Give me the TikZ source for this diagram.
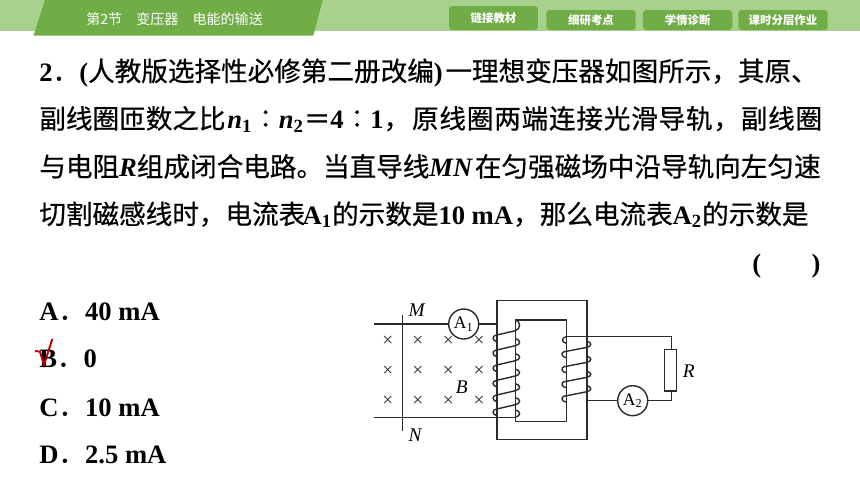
\documentclass[tikz,border=0pt]{standalone}
\usepackage{fontspec}
\setmainfont{Liberation Serif}
\newfontfamily\cjk{Noto Sans CJK SC}
\newfontfamily\cjkbody{Noto Sans CJK SC}[FakeBold=0.5]
\newfontfamily\cjkwide{Noto Sans CJK SC}[FakeBold=0.5,LetterSpace=3]
\newcommand{\zh}[1]{{\cjkbody\mdseries #1}}
\newcommand{\zhw}[1]{{\cjkwide\mdseries #1}}
\definecolor{bandgreen}{HTML}{A9D18E}
\definecolor{tabgreen}{HTML}{70AD47}
\definecolor{wiregray}{HTML}{2B2B2B}
\definecolor{tickred}{HTML}{C00000}
\tikzset{
    textline/.style={anchor=base west, inner sep=0pt, font=\fontsize{15.14}{18}\selectfont\bfseries},
    tabbox/.style={fill=tabgreen, rounded corners=2pt, minimum height=0.4cm, inner sep=0pt, text=white, font=\fontsize{6.5}{8}\selectfont\bfseries\cjk},
    wire/.style={draw=wiregray, line width=0.8pt},
    meter/.style={wire, circle, fill=white, minimum size=0.6cm, inner sep=0pt, text=black, font=\fontsize{10}{12}\selectfont},
    symb/.style={inner sep=0pt, text=black, font=\fontsize{11}{13}\selectfont\itshape},
    cross/.style={inner sep=0pt, text=wiregray, font=\fontsize{11}{13}\selectfont}
}
\begin{document}
\begin{tikzpicture}[x=0.02cm,y=-0.02cm]
    \useasboundingbox (0,0) rectangle (860,484);
    % header
    \fill[bandgreen] (0,0) rectangle (860,31);
    \fill[tabgreen] (45,0) -- (322.7,0) -- (313.3,35.6) -- (33.5,35.6) -- cycle;
    \node[anchor=base west, inner sep=0pt, text=white, font=\fontsize{8}{10}\selectfont\cjk] (title) at (86,24) {第2节\hspace{1em}变压器\hspace{1em}电能的输送};
    \node[tabbox, minimum width=1.78cm, minimum height=0.48cm] (tabA) at (493.5,18) {链接教材};
    \node[tabbox, minimum width=1.79cm] (tabB) at (591,20) {细研考点};
    \node[tabbox, minimum width=1.79cm] (tabC) at (687.7,20) {学情诊断};
    \node[tabbox, minimum width=1.79cm] (tabD) at (783,20) {课时分层作业};
    % question
    \node[textline] (lineA) at (39,81) {2\zh{．}(\zh{人教版选择性必修第二册改编})\hspace{1.5pt}\zh{一理想变压器如图所示，其原、}};
    \node[textline] (lineB) at (39,128.5) {\zh{副线圈匝数之比}\hspace{1pt}\textit{n}\textsubscript{1}\zh{∶}\textit{n}\textsubscript{2}\zh{＝}4\zh{∶}1\zh{，}\hspace{1pt}\zhw{原线圈两端连接光滑导轨，副线圈}};
    \node[textline] (lineC) at (39,176.5) {\zh{与电阻}\textit{R}\zh{组成闭合电路。当直导线}\textit{MN}\hspace{1pt}\zh{在匀强磁场中沿导轨向左匀速}};
    \node[textline] (lineD) at (39,224) {\zh{切割磁感线时，电流表}\hspace{-1.5pt}A\textsubscript{1}\zh{的示数是}10 mA\zh{，那么电流表}A\textsubscript{2}\zh{的示数是}};
    \node[textline] (blank) at (752,272) {(\hspace{1.9em})};
    % options
    \node[textline] (optA) at (39,320) {A\zh{．}40 mA};
    \node[textline] (optB) at (39,367) {B\zh{．}0};
    \node[textline] (optC) at (39,416) {C\zh{．}10 mA};
    \node[textline] (optD) at (39,463) {D\zh{．}2.5 mA};
    \draw[tickred, line width=1.1pt] (35,351) -- (40,351.7) -- (44,365) -- (52.3,339);
    % core
    \draw[wire] (497,300.7) rectangle (587,439.3);
    \draw[wire] (515.3,320) rectangle (566.7,421.3);
    % rails
    \coordinate (railTL) at (374,324);
    \coordinate (railTR) at (497,324);
    \coordinate (railBL) at (374,417.3);
    \coordinate (railBR) at (515.3,417.3);
    \coordinate (M) at (402.7,315);
    \coordinate (N) at (402.7,430.7);
    \node[meter] (Aone) at (463.7,324) {A\textsubscript{1}};
    \draw[wire] (railTL) -- (Aone);
    \draw[wire] (Aone) -- (railTR);
    \draw[wire] (railBL) -- (railBR);
    \draw[wire] (M) -- (N);
    \node[symb] (labM) at (416.7,310) {M};
    \node[symb] (labN) at (415,435) {N};
    \node[symb] (labB) at (461.7,386.7) {B};
    % field
    \foreach \i/\x in {1/387.7,2/417.7,3/448.3,4/479}
        \foreach \j/\y in {1/341.7,2/371.7,3/401.7}
            \node[cross] (c\i\j) at (\x,\y) {×};
    % primary coil
    \draw[wire] (515.3,320) .. controls (521,321) and (521,329) .. (515.3,330.7);
    \foreach \y in {330.7,345.7,360.7,376,390.7,404.7} {
        \draw[wire] (515.3,\y) -- (496,\y+4.5) .. controls (492,\y+5) and (492,\y+10) .. (497,\y+11);
    }
    \foreach \y in {345.7,360.7,376,390.7,404.7} {
        \draw[wire] (515.3,\y-7) .. controls (521,\y-6) and (521,\y-1) .. (515.3,\y);
    }
    \draw[wire] (515.3,410) .. controls (521,411) and (521,416) .. (515.3,417.3);
    % secondary coil
    \coordinate (coilT) at (566,336.3);
    \coordinate (coilB) at (587,400.7);
    \coordinate (cornerT) at (671.7,336.3);
    \coordinate (cornerB) at (671.7,400.7);
    \draw[wire] (566.7,336.3) .. controls (561,338) and (561,342) .. (566.7,343.5);
    \foreach \y in {347.3,362.3,377.3,391.7} {
        \draw[wire] (587,\y) -- (564,\y+4.5) .. controls (561,\y+5) and (561,\y+10) .. (566.7,\y+10.5);
        \draw[wire] (587,\y-6) .. controls (592,\y-5) and (592,\y-1) .. (587,\y);
    }
    \node[meter] (Atwo) at (632.7,400.7) {A\textsubscript{2}};
    \node[wire, rectangle, fill=white, minimum width=0.25cm, minimum height=0.83cm, inner sep=0pt] (res) at (670.5,370.2) {};
    \draw[wire] (coilT) -- (cornerT) -- (res.north -| cornerT);
    \draw[wire] (res.south -| cornerT) -- (cornerB) -- (Atwo);
    \draw[wire] (Atwo) -- (coilB);
    \node[symb] (labR) at (688.7,370.7) {R};
\end{tikzpicture}
\end{document}
